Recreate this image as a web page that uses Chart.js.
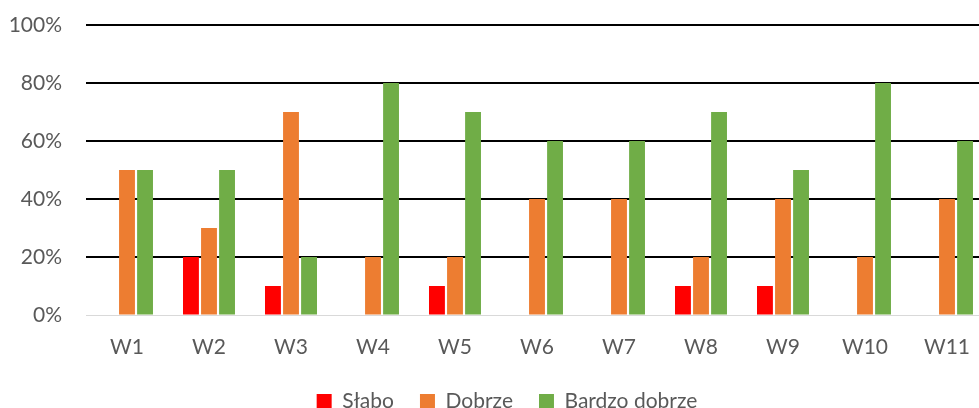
<!DOCTYPE html>
<html>
<head>
<meta charset="utf-8">
<script src="https://cdn.jsdelivr.net/npm/chart.js@4"></script>
<style>
html,body{margin:0;padding:0;background:#fff;overflow:hidden;}
#wrap{width:1015px;height:424px;position:relative;}
</style>
</head>
<body>
<div id="wrap"><canvas id="c"></canvas></div>
<script>
const categories = ['W1','W2','W3','W4','W5','W6','W7','W8','W9','W10','W11'];
const slabo = [0,20,10,0,10,0,0,10,10,0,0];
const dobrze = [50,30,70,20,20,40,40,20,40,20,40];
const bardzoDobrze = [50,50,20,80,70,60,60,70,50,80,60];
const yTicks = [0,20,40,60,80,100];

const FONT = 'Lato, Carlito, Calibri, sans-serif';
const legendShift = {
  id: 'legendShift',
  afterLayout(chart) { if (chart.legend) chart.legend.left += 26; }
};
new Chart(document.getElementById('c'), {
  type: 'bar',
  data: {
    labels: categories,
    datasets: [
      {label: 'Słabo', data: slabo, backgroundColor: '#FF0000'},
      {label: 'Dobrze', data: dobrze, backgroundColor: '#ED7D31'},
      {label: 'Bardzo dobrze', data: bardzoDobrze, backgroundColor: '#70AD47'}
    ]
  },
  plugins: [legendShift],
  options: {
    responsive: true,
    maintainAspectRatio: false,
    animation: false,
    barPercentage: 0.88,
    categoryPercentage: 0.66,
    layout: {padding: {top: 25, right: 27, left: 0, bottom: 2}},
    plugins: {
      tooltip: {enabled: false},
      legend: {
        position: 'bottom',
        labels: {
          boxWidth: 15, boxHeight: 15, padding: 26,
          color: '#595959',
          font: {family: FONT, size: 21}
        }
      }
    },
    scales: {
      x: {
        grid: {display: false, drawTicks: false},
        border: {display: true, color: '#D9D9D9', width: 1},
        ticks: {color: '#595959', font: {family: FONT, size: 21}, padding: 20},
        afterFit: s => { s.height = 50; }
      },
      y: {
        min: 0, max: 100,
        afterBuildTicks: s => { s.ticks = yTicks.map(v => ({value: v})); },
        grid: {
          drawTicks: true,
          tickLength: 24,
          tickColor: 'rgba(0,0,0,0)',
          color: c => c.tick && c.tick.value === 0 ? '#D9D9D9' : '#000000',
          lineWidth: c => c.tick && c.tick.value === 0 ? 1 : 2
        },
        border: {display: false},
        ticks: {
          color: '#595959', font: {family: FONT, size: 21}, padding: 0,
          callback: v => v + '%'
        },
        afterFit: s => { s.width = 86; }
      }
    }
  }
});
</script>
</body>
</html>
